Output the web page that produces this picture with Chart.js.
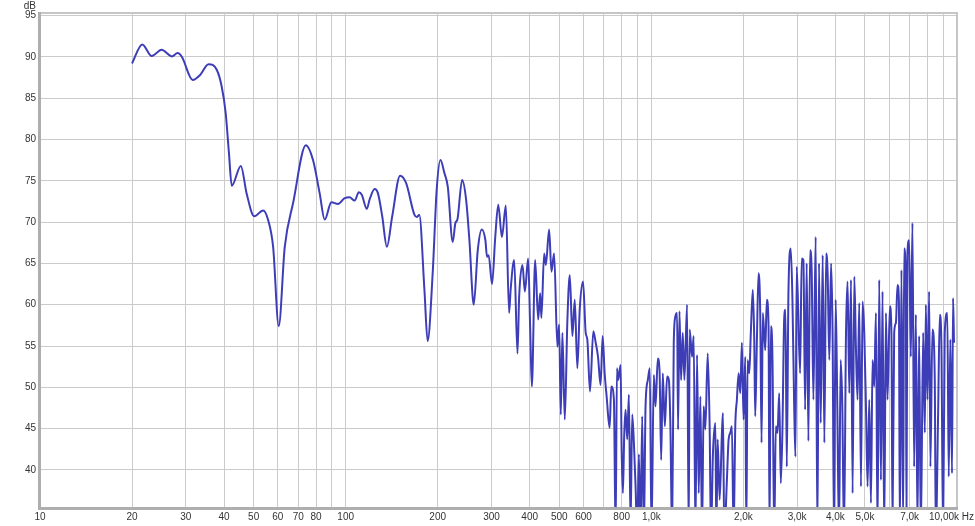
<!DOCTYPE html>
<html>
<head>
<meta charset="utf-8">
<script src="https://cdn.jsdelivr.net/npm/chart.js@4.4.1/dist/chart.umd.min.js"></script>
<style>
  html, body { margin: 0; padding: 0; background: #fff; }
  #wrap { width: 975px; height: 526px; }
</style>
</head>
<body>
<div id="wrap"><canvas id="curve_chart"></canvas></div>
<script>
// frequency response, values (Hz / dB)
const freqs = [
  20,21.6,23.2,25,27,28.2,29.1,31.6,33.4,35.6,37.9,39.3,40.5,41.5,42.4,45.4,47.4,50.2,53.7,55.7,
  57.9,60.4,63.2,67.3,74.1,78.2,82.2,85.4,89.8,94.4,99.3,103,107,110.4,112.9,117.3,119.7,124.4,127.5,131.7,
  136.4,142,150.7,157.7,167.8,171,174.1,181,185.4,192.6,198.5,204.2,210.5,215.8,224,228.6,232,240.4,247.8,254,
  262.4,270.5,278.8,286.5,290,293.6,301.2,308.6,315.6,324.5,334.2,342.5,346.5,
  355.9,364.8,369.5,378.8,385.7,395.4,401.4,406.6,416.8,426.3,432.7,436.8,446,451.7,463.1,471.2,480.8,492.8,499.2,505.6,
  511.7,521,531.4,541,551.7,561.7,572.7,583.1,597.8,609.9,617.4,630.1,645.9,657.7,669.2,682.4,692.9,703.5,714.1,730.5,
  739.5,754.4,
  764,771.8,779.3,793.4,799.5,807.3,815.1,823.4,833.9,844.5,855.2,865.7,876.9,888.1,898.9,910.5,922.1,933.4,945.3,957.3,
  974,988.7,1001,1019,1032,1050,1064,1077,1090,1107,1126,1141,1155,1169,1184,1199,1214,1223,1236,1251,
  1267,1283,1309,1325,1335,1359,1376,1394,1411,1429,1447,1465,1483,1502,1529,
  1552,1567,1591,1620,1632,1648,1673,1702,1715,1733,1767,1790,1813,1835,1858,1882,1905,1930,1954,1978,
  2003,2029,2045,2065,2091,2116,2148,2171,2187,2214,2242,2271,2294,2316,2358,2387,2418,2436,2460,2491,
  2523,2555,2587,2620,2652,2686,2720,2747,2774,2809,2859,2895,2932,2961,2990,
  3067,3104,3144,3185,3223,3265,3306,3346,3390,3449,3493,3537,3582,3636,3682,3731,3774,3822,3872,3918,
  3959,4009,4059,4112,4162,4215,4269,4334,4386,4443,4500,4555,4613,4672,4728,4789,4851,4909,4973,5037,
  5099,5163,5230,5293,5360,5430,5495,5566,5638,5707,5779,5854,5924,
  6032,6105,6151,6230,6311,6388,6455,6502,6581,6665,6715,6802,6833,6884,6973,7063,7149,7240,7335,7423,
  7518,7615,7748,7848,7907,8004,8106,8186,8308,8459,8523,8672,8783,8890,9004,9118,9297,9396,9509,9632,
  9705,9778
];

const levels = [
  89.2,91.5,90.1,90.85,90.05,90.45,90.0,87.2,87.8,89.1,88.4,86.4,83.2,78.4,74.4,76.8,73.5,70.7,71.4,70.3,
  67.0,57.4,67.0,72.3,79.3,77.5,73.5,70.3,72.4,72.2,72.9,73.0,72.6,73.6,73.3,71.6,72.7,74.0,73.5,70.7,
  67.0,70.7,75.6,74.7,70.9,70.6,70.9,61.8,55.6,63.8,73.9,77.5,75.9,74.3,67.6,69.9,70.3,75.1,72.7,67.8,
  60.0,66.6,69.1,67.8,65.8,66.0,62.5,68.2,72.1,68.2,72.0,59.0,61.8,
  65.4,54.1,61.0,64.8,61.6,65.6,57.2,50.1,65.4,58.2,61.4,58.4,66.2,64.8,69.1,64.0,66.2,54.9,57.6,46.7,
  56.6,46.1,58.2,63.6,56.2,60.6,52.3,59.4,62.8,56.6,55.8,49.5,56.8,55.4,53.7,50.3,56.2,51.7,48.9,45.1,
  50.1,48.5,
  32,52.3,50.9,52.7,42.5,37.2,44.1,47.3,43.7,49.1,33,46.7,43.3,38.0,32,41.9,32,46.5,32,47.7,
  50.9,52.3,32,51.5,47.7,53.5,51.9,41.2,51.7,45.3,51.3,50.9,44.9,32,55.4,58.6,59.0,44.9,59.2,50.9,
  56.6,50.9,60.0,32,57.0,53.7,56.2,32,53.9,37.2,48.9,32,47.7,44.9,54.1,
  44.9,32,42.1,45.7,32,43.7,36.4,44.5,46.9,32,38.8,43.7,44.5,45.3,32,45.3,48.5,51.7,49.3,55.4,
  46.1,53.7,32,53.3,51.7,56.6,61.8,55.8,46.5,55.4,63.8,59.0,43.3,59.0,54.5,60.6,57.4,32,57.4,53.3,
  32,45.3,44.5,49.3,38.4,45.3,58.2,59.4,40.4,61.4,66.8,60.6,48.1,41.6,64.6,
  51.7,65.6,65.4,47.3,65.0,43.5,66.6,64.2,48.5,68.2,32,65.0,45.7,66.0,43.3,66.2,63.8,53.3,65.0,56.2,
  32,60.6,47.7,32,53.3,47.7,32,56.6,62.8,49.3,63.0,37.2,63.4,54.5,48.5,60.2,38.0,60.4,56.6,47.7,
  38.0,48.5,36.0,53.3,50.1,59.0,32,63.0,38.8,61.6,32,59.0,48.5,
  59.8,56.2,33,56.6,57.8,62.4,60.6,32,64.2,33,66.8,62.6,33,66.2,67.8,53.7,69.9,40.4,58.8,33,
  56.2,32,56.6,44.5,60.0,48.5,61.6,40.4,57.0,50.9,32,46.5,58.8,55.4,32,56.6,59.0,39.2,55.8,39.6,
  60.8,55.4
];

const xTickValues = [10,20,30,40,50,60,70,80,90,100,200,300,400,500,600,700,800,900,
  1000,2000,3000,4000,5000,6000,7000,8000,9000,10000];
const xTickLabels = ['10','20','30','40','50','60','70','80','','100','200','300','400','500','600','','800','',
  '1,0k','2,0k','3,0k','4,0k','5,0k','','7,0k','','','10,00k Hz'];
const yTickValues = [40,45,50,55,60,65,70,75,80,85,90,95];

const FONT = { family: 'Liberation Sans', size: 10 };
const GRID = '#cbcbcb';

// frame around the plot, plus the unit labels
const framePlugin = {
  id: 'frame',
  afterDraw(chart) {
    const ctx = chart.ctx;
    const a = chart.chartArea;
    ctx.save();
    ctx.strokeStyle = '#c6c6c6';
    ctx.lineWidth = 2;
    ctx.beginPath();
    ctx.moveTo(a.left, a.top);
    ctx.lineTo(a.right, a.top);
    ctx.lineTo(a.right, a.bottom);
    ctx.stroke();
    ctx.strokeStyle = '#aeaeae';
    ctx.lineWidth = 3;
    ctx.beginPath();
    ctx.moveTo(a.left - 0.5, a.top - 1);
    ctx.lineTo(a.left - 0.5, a.bottom + 0.5);
    ctx.lineTo(a.right + 1, a.bottom + 0.5);
    ctx.stroke();

    ctx.fillStyle = '#333';
    ctx.font = '10px "Liberation Sans"';
    ctx.textBaseline = 'middle';
    ctx.textAlign = 'right';
    ctx.fillText('dB', a.left - 4, 6);
    const xs = chart.scales.x;
    ctx.fillText(xTickLabels[xTickLabels.length - 1], xs.getPixelForValue(10000) + 17, a.bottom + 9);
    ctx.restore();
  }
};

new Chart(document.getElementById('curve_chart'), {
  type: 'line',
  data: {
    datasets: [{
      data: freqs.map((f, i) => ({ x: f, y: levels[i] })),
      borderColor: '#3d3db8',
      borderWidth: 2,
      pointRadius: 0,
      tension: 0,
      cubicInterpolationMode: 'monotone',
      fill: false
    }]
  },
  options: {
    responsive: true,
    maintainAspectRatio: false,
    animation: false,
    layout: { padding: { top: 13, right: 18, left: 0, bottom: 0 } },
    plugins: { legend: { display: false }, tooltip: { enabled: false } },
    scales: {
      x: {
        type: 'logarithmic',
        min: 10,
        max: 10000,
        afterBuildTicks: s => { s.ticks = xTickValues.map(v => ({ value: v })); },
        afterFit: s => { s.height = 18; },
        grid: { color: GRID, lineWidth: 1, drawTicks: false },
        border: { display: false },
        ticks: {
          autoSkip: false,
          maxRotation: 0,
          minRotation: 0,
          padding: 3,
          color: '#333',
          font: FONT,
          callback: (v, i) => (i === xTickLabels.length - 1 ? '' : xTickLabels[i])
        }
      },
      y: {
        min: 35.4,
        max: 95.3,
        afterBuildTicks: s => { s.ticks = yTickValues.map(v => ({ value: v })); },
        afterFit: s => { s.width = 40; },
        grid: { color: GRID, lineWidth: 1, drawTicks: false },
        border: { display: false },
        ticks: { padding: 4, color: '#333', font: FONT }
      }
    }
  },
  plugins: [framePlugin]
});
</script>
</body>
</html>
